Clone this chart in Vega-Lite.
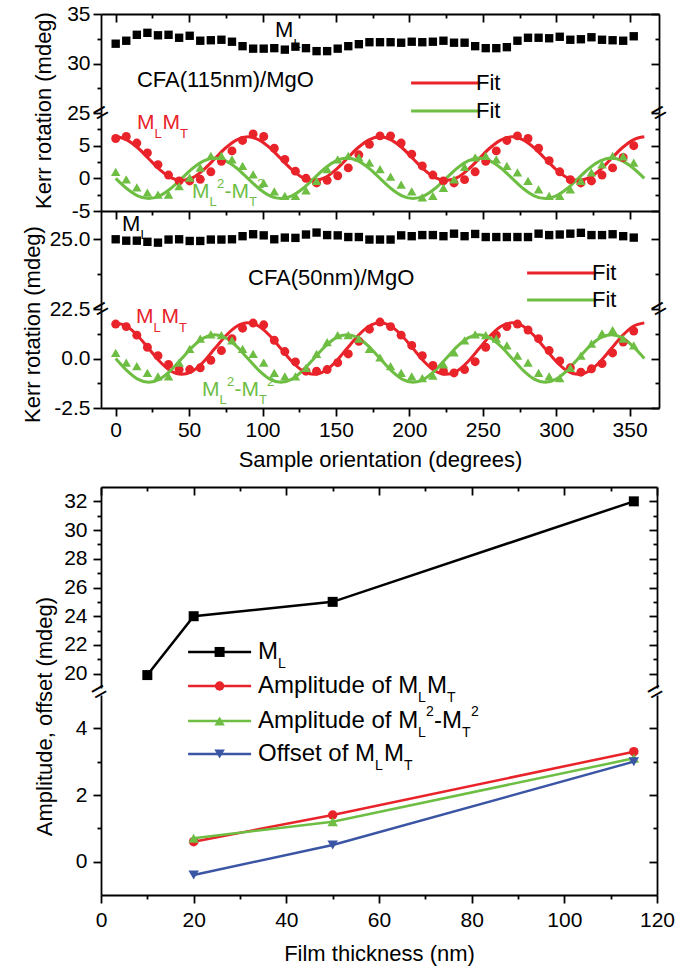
{
"$schema": "https://vega.github.io/schema/vega-lite/v6.json",
"background": "white",
"padding": {"left": 21, "top": 3, "right": 5, "bottom": 2},
"config": {
  "view": {"stroke": null},
  "font": "Liberation Sans",
  "axis": {"labelFont": "Liberation Sans", "labelFontSize": 21, "labelColor": "black", "titleFont": "Liberation Sans", "titleFontSize": 22, "titleFontWeight": "normal", "titleColor": "black", "domainColor": "black", "domainWidth": 1.8, "tickColor": "black", "tickWidth": 1.8, "grid": false, "labelOverlap": false, "labelFlush": false, "labelPadding": 3},
  "legend": {"labelFont": "Liberation Sans", "labelFontSize": 22, "labelColor": "black"},
  "text": {"font": "Liberation Sans", "color": "black"}
},
"datasets": {
  "kerr": [
    {"t":0,"ml115":32.0,"mm115":6.1,"df115":1.0,"ml50":24.99,"mm50":1.74,"df50":0.28},
    {"t":7.2,"ml115":32.3,"mm115":6.4,"df115":-0.15,"ml50":24.94,"mm50":1.61,"df50":-0.21},
    {"t":14.4,"ml115":32.9,"mm115":5.4,"df115":-1.4,"ml50":24.94,"mm50":1.18,"df50":-0.38},
    {"t":21.6,"ml115":33.1,"mm115":3.9,"df115":-2.2,"ml50":24.9,"mm50":0.57,"df50":-0.73},
    {"t":28.8,"ml115":32.85,"mm115":2.1,"df115":-2.5,"ml50":24.87,"mm50":0.14,"df50":-0.9},
    {"t":36,"ml115":32.9,"mm115":0.5,"df115":-2.5,"ml50":24.98,"mm50":-0.3,"df50":-0.9},
    {"t":43.2,"ml115":32.6,"mm115":-0.4,"df115":-1.2,"ml50":24.99,"mm50":-0.56,"df50":-0.21},
    {"t":50.4,"ml115":32.8,"mm115":-0.4,"df115":0.1,"ml50":24.93,"mm50":-0.56,"df50":0.49},
    {"t":57.6,"ml115":32.3,"mm115":-0.15,"df115":1.65,"ml50":24.93,"mm50":-0.47,"df50":1.0},
    {"t":64.8,"ml115":32.35,"mm115":1.0,"df115":3.45,"ml50":24.98,"mm50":-0.09,"df50":1.22},
    {"t":72,"ml115":32.4,"mm115":2.6,"df115":3.45,"ml50":24.98,"mm50":0.4,"df50":1.18},
    {"t":79.2,"ml115":32.2,"mm115":4.2,"df115":2.9,"ml50":24.99,"mm50":1.0,"df50":0.92},
    {"t":86.4,"ml115":31.75,"mm115":5.8,"df115":1.9,"ml50":25.1,"mm50":1.53,"df50":0.49},
    {"t":93.6,"ml115":31.5,"mm115":6.8,"df115":0.6,"ml50":25.17,"mm50":1.79,"df50":0.23},
    {"t":100.8,"ml115":31.5,"mm115":6.4,"df115":-0.7,"ml50":25.13,"mm50":1.7,"df50":-0.21},
    {"t":108,"ml115":31.55,"mm115":4.6,"df115":-2.0,"ml50":24.99,"mm50":0.92,"df50":-0.73},
    {"t":115.2,"ml115":31.4,"mm115":2.9,"df115":-2.7,"ml50":25.05,"mm50":0.35,"df50":-0.9},
    {"t":122.4,"ml115":31.7,"mm115":1.1,"df115":-2.7,"ml50":25.04,"mm50":-0.17,"df50":-0.9},
    {"t":129.6,"ml115":31.55,"mm115":0.0,"df115":-1.85,"ml50":25.16,"mm50":-0.64,"df50":-0.47},
    {"t":136.8,"ml115":31.25,"mm115":-0.7,"df115":-0.4,"ml50":25.23,"mm50":-0.64,"df50":0.23},
    {"t":144,"ml115":31.25,"mm115":-0.3,"df115":1.4,"ml50":25.14,"mm50":-0.56,"df50":0.83},
    {"t":151.2,"ml115":31.5,"mm115":0.4,"df115":2.9,"ml50":25.13,"mm50":-0.21,"df50":1.18},
    {"t":158.4,"ml115":31.75,"mm115":1.6,"df115":3.45,"ml50":25.07,"mm50":0.23,"df50":1.18},
    {"t":165.6,"ml115":31.95,"mm115":3.6,"df115":3.2,"ml50":25.07,"mm50":0.87,"df50":1.0},
    {"t":172.8,"ml115":32.15,"mm115":5.2,"df115":2.4,"ml50":24.98,"mm50":1.48,"df50":0.49},
    {"t":180,"ml115":32.15,"mm115":6.5,"df115":1.4,"ml50":24.98,"mm50":1.84,"df50":0.05},
    {"t":187.2,"ml115":32.15,"mm115":6.5,"df115":0.25,"ml50":24.98,"mm50":1.61,"df50":-0.38},
    {"t":194.4,"ml115":32.1,"mm115":5.4,"df115":-0.95,"ml50":25.13,"mm50":1.18,"df50":-0.73},
    {"t":201.6,"ml115":32.2,"mm115":3.7,"df115":-2.0,"ml50":25.1,"mm50":0.66,"df50":-0.9},
    {"t":208.8,"ml115":32.15,"mm115":1.9,"df115":-2.9,"ml50":25.14,"mm50":0.14,"df50":-0.99},
    {"t":216,"ml115":32.2,"mm115":0.5,"df115":-2.7,"ml50":25.14,"mm50":-0.35,"df50":-0.87},
    {"t":223.2,"ml115":32.3,"mm115":-0.4,"df115":-1.45,"ml50":25.1,"mm50":-0.64,"df50":-0.3},
    {"t":230.4,"ml115":32.1,"mm115":-0.7,"df115":-0.15,"ml50":25.19,"mm50":-0.73,"df50":0.31},
    {"t":237.6,"ml115":32.1,"mm115":-0.2,"df115":1.75,"ml50":25.1,"mm50":-0.56,"df50":0.92},
    {"t":244.8,"ml115":31.75,"mm115":1.0,"df115":3.2,"ml50":25.18,"mm50":-0.16,"df50":1.22},
    {"t":252,"ml115":31.55,"mm115":2.6,"df115":3.45,"ml50":25.07,"mm50":0.57,"df50":1.18},
    {"t":259.2,"ml115":31.55,"mm115":4.2,"df115":2.9,"ml50":25.07,"mm50":1.18,"df50":1.0},
    {"t":266.4,"ml115":31.65,"mm115":5.8,"df115":1.9,"ml50":25.07,"mm50":1.61,"df50":0.66},
    {"t":273.6,"ml115":32.3,"mm115":6.5,"df115":0.9,"ml50":25.07,"mm50":1.74,"df50":0.14},
    {"t":280.8,"ml115":32.6,"mm115":6.1,"df115":-0.4,"ml50":25.07,"mm50":1.44,"df50":-0.21},
    {"t":288,"ml115":32.6,"mm115":4.6,"df115":-1.7,"ml50":25.19,"mm50":1.0,"df50":-0.73},
    {"t":295.2,"ml115":32.55,"mm115":2.7,"df115":-2.7,"ml50":25.14,"mm50":0.4,"df50":-0.9},
    {"t":302.4,"ml115":32.7,"mm115":1.0,"df115":-2.7,"ml50":25.16,"mm50":-0.12,"df50":-0.99},
    {"t":309.6,"ml115":32.4,"mm115":-0.2,"df115":-1.7,"ml50":25.19,"mm50":-0.47,"df50":-0.47},
    {"t":316.8,"ml115":32.45,"mm115":-0.7,"df115":-0.4,"ml50":25.22,"mm50":-0.69,"df50":0.14},
    {"t":324,"ml115":32.65,"mm115":-0.4,"df115":0.9,"ml50":25.14,"mm50":-0.52,"df50":0.75},
    {"t":331.2,"ml115":32.4,"mm115":0.5,"df115":2.15,"ml50":25.14,"mm50":-0.26,"df50":1.27},
    {"t":338.4,"ml115":32.35,"mm115":1.6,"df115":3.45,"ml50":25.17,"mm50":0.28,"df50":1.44},
    {"t":345.6,"ml115":32.3,"mm115":3.2,"df115":3.35,"ml50":25.1,"mm50":0.83,"df50":1.0},
    {"t":352.8,"ml115":32.75,"mm115":5.0,"df115":2.4,"ml50":25.05,"mm50":1.39,"df50":0.66}
  ],
  "fit": [
    {"t":0,"r115":6.35,"g115":0,"r50":1.8,"g50":0},
    {"t":7.5,"r115":5.9,"g115":-1.55,"r50":1.63,"g50":-0.6},
    {"t":15,"r115":4.68,"g115":-2.68,"r50":1.15,"g50":-1.04},
    {"t":22.5,"r115":3.0,"g115":-3.1,"r50":0.5,"g50":-1.2},
    {"t":30,"r115":1.33,"g115":-2.68,"r50":-0.15,"g50":-1.04},
    {"t":37.5,"r115":0.1,"g115":-1.55,"r50":-0.63,"g50":-0.6},
    {"t":45,"r115":-0.35,"g115":0,"r50":-0.8,"g50":0},
    {"t":52.5,"r115":0.1,"g115":1.55,"r50":-0.63,"g50":0.6},
    {"t":60,"r115":1.33,"g115":2.68,"r50":-0.15,"g50":1.04},
    {"t":67.5,"r115":3.0,"g115":3.1,"r50":0.5,"g50":1.2},
    {"t":75,"r115":4.68,"g115":2.68,"r50":1.15,"g50":1.04},
    {"t":82.5,"r115":5.9,"g115":1.55,"r50":1.63,"g50":0.6},
    {"t":90,"r115":6.35,"g115":0,"r50":1.8,"g50":0},
    {"t":97.5,"r115":5.9,"g115":-1.55,"r50":1.63,"g50":-0.6},
    {"t":105,"r115":4.68,"g115":-2.68,"r50":1.15,"g50":-1.04},
    {"t":112.5,"r115":3.0,"g115":-3.1,"r50":0.5,"g50":-1.2},
    {"t":120,"r115":1.33,"g115":-2.68,"r50":-0.15,"g50":-1.04},
    {"t":127.5,"r115":0.1,"g115":-1.55,"r50":-0.63,"g50":-0.6},
    {"t":135,"r115":-0.35,"g115":0,"r50":-0.8,"g50":0},
    {"t":142.5,"r115":0.1,"g115":1.55,"r50":-0.63,"g50":0.6},
    {"t":150,"r115":1.33,"g115":2.68,"r50":-0.15,"g50":1.04},
    {"t":157.5,"r115":3.0,"g115":3.1,"r50":0.5,"g50":1.2},
    {"t":165,"r115":4.68,"g115":2.68,"r50":1.15,"g50":1.04},
    {"t":172.5,"r115":5.9,"g115":1.55,"r50":1.63,"g50":0.6},
    {"t":180,"r115":6.35,"g115":0,"r50":1.8,"g50":0},
    {"t":187.5,"r115":5.9,"g115":-1.55,"r50":1.63,"g50":-0.6},
    {"t":195,"r115":4.68,"g115":-2.68,"r50":1.15,"g50":-1.04},
    {"t":202.5,"r115":3.0,"g115":-3.1,"r50":0.5,"g50":-1.2},
    {"t":210,"r115":1.33,"g115":-2.68,"r50":-0.15,"g50":-1.04},
    {"t":217.5,"r115":0.1,"g115":-1.55,"r50":-0.63,"g50":-0.6},
    {"t":225,"r115":-0.35,"g115":0,"r50":-0.8,"g50":0},
    {"t":232.5,"r115":0.1,"g115":1.55,"r50":-0.63,"g50":0.6},
    {"t":240,"r115":1.33,"g115":2.68,"r50":-0.15,"g50":1.04},
    {"t":247.5,"r115":3.0,"g115":3.1,"r50":0.5,"g50":1.2},
    {"t":255,"r115":4.68,"g115":2.68,"r50":1.15,"g50":1.04},
    {"t":262.5,"r115":5.9,"g115":1.55,"r50":1.63,"g50":0.6},
    {"t":270,"r115":6.35,"g115":0,"r50":1.8,"g50":0},
    {"t":277.5,"r115":5.9,"g115":-1.55,"r50":1.63,"g50":-0.6},
    {"t":285,"r115":4.68,"g115":-2.68,"r50":1.15,"g50":-1.04},
    {"t":292.5,"r115":3.0,"g115":-3.1,"r50":0.5,"g50":-1.2},
    {"t":300,"r115":1.33,"g115":-2.68,"r50":-0.15,"g50":-1.04},
    {"t":307.5,"r115":0.1,"g115":-1.55,"r50":-0.63,"g50":-0.6},
    {"t":315,"r115":-0.35,"g115":0,"r50":-0.8,"g50":0},
    {"t":322.5,"r115":0.1,"g115":1.55,"r50":-0.63,"g50":0.6},
    {"t":330,"r115":1.33,"g115":2.68,"r50":-0.15,"g50":1.04},
    {"t":337.5,"r115":3.0,"g115":3.1,"r50":0.5,"g50":1.2},
    {"t":345,"r115":4.68,"g115":2.68,"r50":1.15,"g50":1.04},
    {"t":352.5,"r115":5.9,"g115":1.55,"r50":1.63,"g50":0.6},
    {"t":360,"r115":6.35,"g115":0,"r50":1.8,"g50":0}
  ],
  "thick": [
    {"nm":10,"ml":19.9},
    {"nm":20,"ml":24.0,"amp":0.6,"ampd":0.7,"off":-0.4},
    {"nm":50,"ml":25.0,"amp":1.4,"ampd":1.2,"off":0.5},
    {"nm":115,"ml":32.0,"amp":3.3,"ampd":3.1,"off":3.0}
  ]
},
"spacing": 16,
"vconcat": [
  {"spacing": 0, "bounds": "flush", "resolve": {"scale": {"color": "independent"}},
   "vconcat": [
    {"width": 558, "height": 99, "data": {"values": [{}]}, "resolve": {"axis": {"x": "independent", "y": "independent"}},
     "layer": [
      {"data": {"name": "kerr"}, "mark": {"type": "point", "shape": "square", "filled": true, "color": "black", "opacity": 1, "size": 70},
       "encoding": {
        "x": {"field": "t", "type": "quantitative", "scale": {"domain": [-10, 370], "nice": false, "zero": false},
              "axis": {"orient": "top", "values": [0,25,50,75,100,125,150,175,200,225,250,275,300,325,350], "labels": false, "title": null, "tickSize": {"condition": {"test": "datum.value % 50 === 0", "value": -8}, "value": -4}}},
        "y": {"field": "ml115", "type": "quantitative", "scale": {"domain": [25, 35], "nice": false, "zero": false},
              "axis": {"orient": "left", "values": [25,27.5,30,32.5,35], "labelExpr": "datum.value % 5 === 0 ? '' + datum.value : ''", "tickSize": {"condition": {"test": "datum.value % 5 === 0", "value": 8}, "value": 4}, "title": "Kerr rotation (mdeg)", "titleX": -58, "titleY": 96, "titleAngle": 270, "titleBaseline": "middle", "titleAlign": "center"}}}},
      {"mark": {"type": "text", "text": "M", "align": "left", "baseline": "middle", "fontSize": 22},
       "encoding": {"x": {"datum": 108.5, "type": "quantitative", "axis": null},
        "y": {"datum": 33.38, "type": "quantitative", "axis": {"orient": "right", "values": [25,27.5,30,32.5,35], "labels": false, "title": null, "tickSize": {"condition": {"test": "datum.value % 5 === 0", "value": -8}, "value": -4}}}}},
      {"mark": {"type": "text", "text": "L", "align": "left", "baseline": "middle", "fontSize": 13, "dx": 18.5, "dy": 14},
       "encoding": {"x": {"datum": 108.5, "type": "quantitative",
              "axis": {"orient": "top", "offset": -197, "values": [0,25,50,75,100,125,150,175,200,225,250,275,300,325,350], "labels": false, "title": null, "tickSize": {"condition": {"test": "datum.value % 50 === 0", "value": -8}, "value": -4}}},
        "y": {"datum": 33.38, "type": "quantitative", "axis": null}}},
      {"mark": {"type": "text", "text": "CFA(115nm)/MgO", "align": "left", "baseline": "middle", "fontSize": 22},
       "encoding": {"x": {"datum": 14.5, "type": "quantitative",
              "axis": {"orient": "top", "offset": -394, "values": [0,25,50,75,100,125,150,175,200,225,250,275,300,325,350], "labelExpr": "datum.value % 50 === 0 ? '' + datum.value : ''", "labelBaseline": "top", "labelPadding": -3, "tickSize": {"condition": {"test": "datum.value % 50 === 0", "value": -8}, "value": -4}, "title": "Sample orientation (degrees)", "titleY": 51, "titleBaseline": "middle"}},
        "y": {"datum": 28.33, "type": "quantitative", "axis": null}}}
     ]},
    {"width": 558, "height": 98, "data": {"values": [{}]}, "resolve": {"axis": {"y": "independent"}},
     "layer": [
      {"data": {"name": "fit"}, "transform": [{"fold": ["r115", "g115"], "as": ["curve", "v"]}],
       "mark": {"type": "line", "strokeWidth": 3, "interpolate": "monotone"},
       "encoding": {
        "x": {"field": "t", "type": "quantitative", "scale": {"domain": [-10, 370], "nice": false, "zero": false}, "axis": null},
        "y": {"field": "v", "type": "quantitative", "scale": {"domain": [-5, 10], "nice": false, "zero": false},
              "axis": {"orient": "left", "values": [-5,-2.5,0,2.5,5,7.5], "labelExpr": "datum.value % 5 === 0 ? '' + datum.value : ''", "tickSize": {"condition": {"test": "datum.value % 5 === 0", "value": 8}, "value": 4}, "title": null}},
        "color": {"field": "curve", "type": "nominal", "scale": {"domain": ["r115", "g115"], "range": ["#E8232A", "#6EBE44"]},
                  "legend": {"orient": "none", "legendX": 333.5, "legendY": -41, "title": null, "labelExpr": "'Fit'", "symbolType": "M-8.6,0H8.6", "symbolSize": 64, "symbolStrokeWidth": 3, "labelFontSize": 22, "labelOffset": 19.5, "rowPadding": 6, "padding": 0}}}},
      {"data": {"name": "kerr"}, "mark": {"type": "point", "shape": "circle", "filled": true, "color": "#E8232A", "opacity": 1, "size": 80},
       "encoding": {"x": {"field": "t", "type": "quantitative", "axis": null},
        "y": {"field": "mm115", "type": "quantitative", "axis": {"orient": "right", "values": [-5,-2.5,0,2.5,5,7.5], "labels": false, "title": null, "tickSize": {"condition": {"test": "datum.value % 5 === 0", "value": -8}, "value": -4}}}}},
      {"data": {"name": "kerr"}, "mark": {"type": "point", "shape": "triangle-up", "filled": true, "color": "#6EBE44", "opacity": 1, "size": 90},
       "encoding": {"x": {"field": "t", "type": "quantitative", "axis": null}, "y": {"field": "df115", "type": "quantitative", "axis": null}}},
      {"mark": {"type": "text", "text": "M", "align": "left", "baseline": "middle", "fontSize": 21, "color": "#E8232A"},
       "encoding": {"x": {"datum": 14.5, "type": "quantitative", "axis": null}, "y": {"datum": 8.47, "type": "quantitative", "axis": null}}},
      {"mark": {"type": "text", "text": "L", "align": "left", "baseline": "middle", "fontSize": 13, "color": "#E8232A", "dx": 17.5, "dy": 11},
       "encoding": {"x": {"datum": 14.5, "type": "quantitative", "axis": null}, "y": {"datum": 8.47, "type": "quantitative", "axis": null}}},
      {"mark": {"type": "text", "text": "M", "align": "left", "baseline": "middle", "fontSize": 21, "color": "#E8232A", "dx": 25.5},
       "encoding": {"x": {"datum": 14.5, "type": "quantitative", "axis": null}, "y": {"datum": 8.47, "type": "quantitative", "axis": null}}},
      {"mark": {"type": "text", "text": "T", "align": "left", "baseline": "middle", "fontSize": 13, "color": "#E8232A", "dx": 43, "dy": 11},
       "encoding": {"x": {"datum": 14.5, "type": "quantitative", "axis": null}, "y": {"datum": 8.47, "type": "quantitative", "axis": null}}},
      {"mark": {"type": "text", "text": "M", "align": "left", "baseline": "middle", "fontSize": 21, "color": "#6EBE44"},
       "encoding": {"x": {"datum": 52, "type": "quantitative", "axis": null}, "y": {"datum": -2.09, "type": "quantitative", "axis": null}}},
      {"mark": {"type": "text", "text": "L", "align": "left", "baseline": "middle", "fontSize": 13, "color": "#6EBE44", "dx": 17.5, "dy": 10},
       "encoding": {"x": {"datum": 52, "type": "quantitative", "axis": null}, "y": {"datum": -2.09, "type": "quantitative", "axis": null}}},
      {"mark": {"type": "text", "text": "2", "align": "left", "baseline": "middle", "fontSize": 13, "color": "#6EBE44", "dx": 25, "dy": -8},
       "encoding": {"x": {"datum": 52, "type": "quantitative", "axis": null}, "y": {"datum": -2.09, "type": "quantitative", "axis": null}}},
      {"mark": {"type": "text", "text": "-M", "align": "left", "baseline": "middle", "fontSize": 21, "color": "#6EBE44", "dx": 32.5},
       "encoding": {"x": {"datum": 52, "type": "quantitative", "axis": null}, "y": {"datum": -2.09, "type": "quantitative", "axis": null}}},
      {"mark": {"type": "text", "text": "T", "align": "left", "baseline": "middle", "fontSize": 13, "color": "#6EBE44", "dx": 57, "dy": 10},
       "encoding": {"x": {"datum": 52, "type": "quantitative", "axis": null}, "y": {"datum": -2.09, "type": "quantitative", "axis": null}}},
      {"mark": {"type": "text", "text": "2", "align": "left", "baseline": "middle", "fontSize": 13, "color": "#6EBE44", "dx": 65, "dy": -8},
       "encoding": {"x": {"datum": 52, "type": "quantitative", "axis": null}, "y": {"datum": -2.09, "type": "quantitative", "axis": null}}},
      {"mark": {"type": "text", "text": "=", "align": "center", "baseline": "middle", "fontSize": 26, "angle": 330},
       "encoding": {"x": {"datum": -10, "type": "quantitative", "axis": null}, "y": {"datum": 10, "type": "quantitative", "axis": null}}},
      {"mark": {"type": "text", "text": "=", "align": "center", "baseline": "middle", "fontSize": 26, "angle": 330},
       "encoding": {"x": {"datum": 370, "type": "quantitative", "axis": null}, "y": {"datum": 10, "type": "quantitative", "axis": null}}}
     ]},
    {"width": 558, "height": 98, "data": {"values": [{}]}, "resolve": {"axis": {"y": "independent"}},
     "layer": [
      {"data": {"name": "kerr"}, "mark": {"type": "point", "shape": "square", "filled": true, "color": "black", "opacity": 1, "size": 70},
       "encoding": {
        "x": {"field": "t", "type": "quantitative", "scale": {"domain": [-10, 370], "nice": false, "zero": false}, "axis": null},
        "y": {"field": "ml50", "type": "quantitative", "scale": {"domain": [22.5, 26], "nice": false, "zero": false},
              "axis": {"orient": "left", "values": [22.5,23.75,25], "labelExpr": "datum.value % 2.5 === 0 ? format(datum.value, '.1f') : ''", "tickSize": {"condition": {"test": "datum.value % 2.5 === 0", "value": 8}, "value": 4}, "title": "Kerr rotation (mdeg)", "titleX": -69, "titleY": 113, "titleAngle": 270, "titleBaseline": "middle", "titleAlign": "center"}}}},
      {"mark": {"type": "text", "text": "M", "align": "left", "baseline": "middle", "fontSize": 22},
       "encoding": {"x": {"datum": 4.3, "type": "quantitative", "axis": null},
        "y": {"datum": 25.54, "type": "quantitative", "axis": {"orient": "right", "values": [22.5,23.75,25], "labels": false, "title": null, "tickSize": {"condition": {"test": "datum.value % 2.5 === 0", "value": -8}, "value": -4}}}}},
      {"mark": {"type": "text", "text": "L", "align": "left", "baseline": "middle", "fontSize": 13, "dx": 18.5, "dy": 11},
       "encoding": {"x": {"datum": 4.3, "type": "quantitative", "axis": null}, "y": {"datum": 25.54, "type": "quantitative", "axis": null}}},
      {"mark": {"type": "text", "text": "CFA(50nm)/MgO", "align": "left", "baseline": "middle", "fontSize": 22},
       "encoding": {"x": {"datum": 90.1, "type": "quantitative", "axis": null}, "y": {"datum": 23.61, "type": "quantitative", "axis": null}}}
     ]},
    {"width": 558, "height": 99, "data": {"values": [{}]}, "resolve": {"axis": {"y": "independent"}},
     "layer": [
      {"data": {"name": "fit"}, "transform": [{"fold": ["r50", "g50"], "as": ["curve", "v"]}],
       "mark": {"type": "line", "strokeWidth": 3, "interpolate": "monotone"},
       "encoding": {
        "x": {"field": "t", "type": "quantitative", "scale": {"domain": [-10, 370], "nice": false, "zero": false}, "axis": null},
        "y": {"field": "v", "type": "quantitative", "scale": {"domain": [-2.5, 2.5], "nice": false, "zero": false},
              "axis": {"orient": "left", "values": [-2.5,-1.25,0,1.25], "labelExpr": "datum.value % 2.5 === 0 ? replace(format(datum.value, '.1f'), '\u2212', '-') : ''", "tickSize": {"condition": {"test": "datum.value % 2.5 === 0", "value": 8}, "value": 4}, "title": null}},
        "color": {"field": "curve", "type": "nominal", "scale": {"domain": ["r50", "g50"], "range": ["#E8232A", "#6EBE44"]},
                  "legend": {"orient": "none", "legendX": 449.5, "legendY": -47, "title": null, "labelExpr": "'Fit'", "symbolType": "M-8.6,0H8.6", "symbolSize": 64, "symbolStrokeWidth": 3, "labelFontSize": 22, "labelOffset": 19.5, "rowPadding": 5, "padding": 0}}}},
      {"data": {"name": "kerr"}, "mark": {"type": "point", "shape": "circle", "filled": true, "color": "#E8232A", "opacity": 1, "size": 80},
       "encoding": {"x": {"field": "t", "type": "quantitative", "axis": null},
        "y": {"field": "mm50", "type": "quantitative", "axis": {"orient": "right", "values": [-2.5,-1.25,0,1.25], "labels": false, "title": null, "tickSize": {"condition": {"test": "datum.value % 2.5 === 0", "value": -8}, "value": -4}}}}},
      {"data": {"name": "kerr"}, "mark": {"type": "point", "shape": "triangle-up", "filled": true, "color": "#6EBE44", "opacity": 1, "size": 90},
       "encoding": {"x": {"field": "t", "type": "quantitative", "axis": null}, "y": {"field": "df50", "type": "quantitative", "axis": null}}},
      {"mark": {"type": "text", "text": "M", "align": "left", "baseline": "middle", "fontSize": 21, "color": "#E8232A"},
       "encoding": {"x": {"datum": 13.8, "type": "quantitative", "axis": null}, "y": {"datum": 2.1, "type": "quantitative", "axis": null}}},
      {"mark": {"type": "text", "text": "L", "align": "left", "baseline": "middle", "fontSize": 13, "color": "#E8232A", "dx": 17.5, "dy": 11},
       "encoding": {"x": {"datum": 13.8, "type": "quantitative", "axis": null}, "y": {"datum": 2.1, "type": "quantitative", "axis": null}}},
      {"mark": {"type": "text", "text": "M", "align": "left", "baseline": "middle", "fontSize": 21, "color": "#E8232A", "dx": 25.5},
       "encoding": {"x": {"datum": 13.8, "type": "quantitative", "axis": null}, "y": {"datum": 2.1, "type": "quantitative", "axis": null}}},
      {"mark": {"type": "text", "text": "T", "align": "left", "baseline": "middle", "fontSize": 13, "color": "#E8232A", "dx": 43, "dy": 11},
       "encoding": {"x": {"datum": 13.8, "type": "quantitative", "axis": null}, "y": {"datum": 2.1, "type": "quantitative", "axis": null}}},
      {"mark": {"type": "text", "text": "M", "align": "left", "baseline": "middle", "fontSize": 21, "color": "#6EBE44"},
       "encoding": {"x": {"datum": 58.8, "type": "quantitative", "axis": null}, "y": {"datum": -1.59, "type": "quantitative", "axis": null}}},
      {"mark": {"type": "text", "text": "L", "align": "left", "baseline": "middle", "fontSize": 13, "color": "#6EBE44", "dx": 17.5, "dy": 10},
       "encoding": {"x": {"datum": 58.8, "type": "quantitative", "axis": null}, "y": {"datum": -1.59, "type": "quantitative", "axis": null}}},
      {"mark": {"type": "text", "text": "2", "align": "left", "baseline": "middle", "fontSize": 13, "color": "#6EBE44", "dx": 25, "dy": -8},
       "encoding": {"x": {"datum": 58.8, "type": "quantitative", "axis": null}, "y": {"datum": -1.59, "type": "quantitative", "axis": null}}},
      {"mark": {"type": "text", "text": "-M", "align": "left", "baseline": "middle", "fontSize": 21, "color": "#6EBE44", "dx": 32.5},
       "encoding": {"x": {"datum": 58.8, "type": "quantitative", "axis": null}, "y": {"datum": -1.59, "type": "quantitative", "axis": null}}},
      {"mark": {"type": "text", "text": "T", "align": "left", "baseline": "middle", "fontSize": 13, "color": "#6EBE44", "dx": 57, "dy": 10},
       "encoding": {"x": {"datum": 58.8, "type": "quantitative", "axis": null}, "y": {"datum": -1.59, "type": "quantitative", "axis": null}}},
      {"mark": {"type": "text", "text": "2", "align": "left", "baseline": "middle", "fontSize": 13, "color": "#6EBE44", "dx": 65, "dy": -8},
       "encoding": {"x": {"datum": 58.8, "type": "quantitative", "axis": null}, "y": {"datum": -1.59, "type": "quantitative", "axis": null}}},
      {"mark": {"type": "text", "text": "=", "align": "center", "baseline": "middle", "fontSize": 26, "angle": 330},
       "encoding": {"x": {"datum": -10, "type": "quantitative", "axis": null}, "y": {"datum": 2.5, "type": "quantitative", "axis": null}}},
      {"mark": {"type": "text", "text": "=", "align": "center", "baseline": "middle", "fontSize": 26, "angle": 330},
       "encoding": {"x": {"datum": 370, "type": "quantitative", "axis": null}, "y": {"datum": 2.5, "type": "quantitative", "axis": null}}}
     ]}
   ]},
  {"spacing": 7, "bounds": "flush",
   "vconcat": [
    {"width": 556, "height": 201, "data": {"values": [{}]}, "resolve": {"axis": {"x": "independent", "y": "independent"}},
     "layer": [
      {"data": {"name": "thick"}, "mark": {"type": "line", "color": "black", "strokeWidth": 2.5},
       "encoding": {
        "x": {"field": "nm", "type": "quantitative", "scale": {"domain": [0, 120], "nice": false, "zero": false},
              "axis": {"orient": "top", "values": [0,10,20,30,40,50,60,70,80,90,100,110,120], "labels": false, "title": null, "tickSize": {"condition": {"test": "datum.value % 20 === 0", "value": -8}, "value": -4}}},
        "y": {"field": "ml", "type": "quantitative", "scale": {"domain": [19, 33], "nice": false, "zero": false},
              "axis": {"orient": "left", "values": [20,21,22,23,24,25,26,27,28,29,30,31,32], "labelExpr": "datum.value % 2 === 0 ? '' + datum.value : ''", "labelPadding": 6, "tickSize": {"condition": {"test": "datum.value % 2 === 0", "value": 8}, "value": 4}, "title": null}}}},
      {"data": {"name": "thick"}, "mark": {"type": "point", "shape": "square", "filled": true, "color": "black", "opacity": 1, "size": 100},
       "encoding": {"x": {"field": "nm", "type": "quantitative", "axis": null},
        "y": {"field": "ml", "type": "quantitative", "axis": {"orient": "right", "values": [20,21,22,23,24,25,26,27,28,29,30,31,32], "labels": false, "title": null, "tickSize": {"condition": {"test": "datum.value % 2 === 0", "value": -8}, "value": -4}}}}},
      {"mark": {"type": "rule", "color": "black", "strokeWidth": 2.5},
       "encoding": {"x": {"datum": 18.8, "type": "quantitative", "axis": null}, "x2": {"datum": 32.4}, "y": {"datum": 21.51, "type": "quantitative", "axis": null}}},
      {"mark": {"type": "point", "shape": "square", "filled": true, "color": "black", "opacity": 1, "size": 100},
       "encoding": {"x": {"datum": 25.6, "type": "quantitative", "axis": null}, "y": {"datum": 21.51, "type": "quantitative", "axis": null}}},
      {"mark": {"type": "text", "text": "M", "align": "left", "baseline": "middle", "fontSize": 24},
       "encoding": {"x": {"datum": 33.9, "type": "quantitative",
              "axis": {"orient": "top", "offset": -408, "values": [0,10,20,30,40,50,60,70,80,90,100,110,120], "labelExpr": "datum.value % 20 === 0 ? '' + datum.value : ''", "labelBaseline": "top", "labelPadding": -6, "tickSize": {"condition": {"test": "datum.value % 20 === 0", "value": -8}, "value": -4}, "title": "Film thickness (nm)", "titleY": 58, "titleBaseline": "middle"}},
        "y": {"datum": 21.51, "type": "quantitative", "axis": null}}},
      {"mark": {"type": "text", "text": "L", "align": "left", "baseline": "middle", "fontSize": 14, "dx": 20, "dy": 12},
       "encoding": {"x": {"datum": 33.9, "type": "quantitative", "axis": null}, "y": {"datum": 21.51, "type": "quantitative", "axis": null}}},
      {"mark": {"type": "rule", "color": "#E8232A", "strokeWidth": 2.5},
       "encoding": {"x": {"datum": 18.8, "type": "quantitative", "axis": null}, "x2": {"datum": 32.4}, "y": {"datum": 19.14, "type": "quantitative", "axis": null}}},
      {"mark": {"type": "point", "shape": "circle", "filled": true, "color": "#E8232A", "opacity": 1, "size": 90},
       "encoding": {"x": {"datum": 25.6, "type": "quantitative", "axis": null}, "y": {"datum": 19.14, "type": "quantitative", "axis": null}}},
      {"mark": {"type": "text", "text": "Amplitude of M", "align": "left", "baseline": "middle", "fontSize": 24},
       "encoding": {"x": {"datum": 33.9, "type": "quantitative", "axis": null}, "y": {"datum": 19.14, "type": "quantitative", "axis": null}}},
      {"mark": {"type": "text", "text": "L", "align": "left", "baseline": "middle", "fontSize": 14, "dx": 160, "dy": 12},
       "encoding": {"x": {"datum": 33.9, "type": "quantitative", "axis": null}, "y": {"datum": 19.14, "type": "quantitative", "axis": null}}},
      {"mark": {"type": "text", "text": "M", "align": "left", "baseline": "middle", "fontSize": 24, "dx": 169},
       "encoding": {"x": {"datum": 33.9, "type": "quantitative", "axis": null}, "y": {"datum": 19.14, "type": "quantitative", "axis": null}}},
      {"mark": {"type": "text", "text": "T", "align": "left", "baseline": "middle", "fontSize": 14, "dx": 189, "dy": 12},
       "encoding": {"x": {"datum": 33.9, "type": "quantitative", "axis": null}, "y": {"datum": 19.14, "type": "quantitative", "axis": null}}}
     ]},
    {"width": 556, "height": 200, "data": {"values": [{}]}, "resolve": {"axis": {"y": "independent"}},
     "layer": [
      {"data": {"name": "thick"}, "mark": {"type": "line", "color": "#E8232A", "strokeWidth": 2.5},
       "encoding": {
        "x": {"field": "nm", "type": "quantitative", "scale": {"domain": [0, 120], "nice": false, "zero": false}, "axis": null},
        "y": {"field": "amp", "type": "quantitative", "scale": {"domain": [-1, 5], "nice": false, "zero": false},
              "axis": {"orient": "left", "values": [0,1,2,3,4], "labelExpr": "datum.value % 2 === 0 ? '' + datum.value : ''", "labelPadding": 6, "tickSize": {"condition": {"test": "datum.value % 2 === 0", "value": 8}, "value": 4}, "title": "Amplitude, offset (mdeg)", "titleX": -57, "titleY": 21, "titleAngle": 270, "titleBaseline": "middle", "titleAlign": "center"}}}},
      {"data": {"name": "thick"}, "mark": {"type": "point", "shape": "circle", "filled": true, "color": "#E8232A", "opacity": 1, "size": 90},
       "encoding": {"x": {"field": "nm", "type": "quantitative", "axis": null},
        "y": {"field": "amp", "type": "quantitative", "axis": {"orient": "right", "values": [0,1,2,3,4], "labels": false, "title": null, "tickSize": {"condition": {"test": "datum.value % 2 === 0", "value": -8}, "value": -4}}}}},
      {"data": {"name": "thick"}, "mark": {"type": "line", "color": "#6EBE44", "strokeWidth": 2.5},
       "encoding": {"x": {"field": "nm", "type": "quantitative", "axis": null}, "y": {"field": "ampd", "type": "quantitative", "axis": null}}},
      {"data": {"name": "thick"}, "mark": {"type": "point", "shape": "triangle-up", "filled": true, "color": "#6EBE44", "opacity": 1, "size": 110},
       "encoding": {"x": {"field": "nm", "type": "quantitative", "axis": null}, "y": {"field": "ampd", "type": "quantitative", "axis": null}}},
      {"data": {"name": "thick"}, "mark": {"type": "line", "color": "#3B55A5", "strokeWidth": 2.5},
       "encoding": {"x": {"field": "nm", "type": "quantitative", "axis": null}, "y": {"field": "off", "type": "quantitative", "axis": null}}},
      {"data": {"name": "thick"}, "mark": {"type": "point", "shape": "triangle-down", "filled": true, "color": "#3B55A5", "opacity": 1, "size": 110},
       "encoding": {"x": {"field": "nm", "type": "quantitative", "axis": null}, "y": {"field": "off", "type": "quantitative", "axis": null}}},
      {"mark": {"type": "rule", "color": "#6EBE44", "strokeWidth": 2.5},
       "encoding": {"x": {"datum": 18.8, "type": "quantitative", "axis": null}, "x2": {"datum": 32.4}, "y": {"datum": 4.22, "type": "quantitative", "axis": null}}},
      {"mark": {"type": "point", "shape": "triangle-up", "filled": true, "color": "#6EBE44", "opacity": 1, "size": 110},
       "encoding": {"x": {"datum": 25.6, "type": "quantitative", "axis": null}, "y": {"datum": 4.22, "type": "quantitative", "axis": null}}},
      {"mark": {"type": "text", "text": "Amplitude of M", "align": "left", "baseline": "middle", "fontSize": 24},
       "encoding": {"x": {"datum": 33.9, "type": "quantitative", "axis": null}, "y": {"datum": 4.22, "type": "quantitative", "axis": null}}},
      {"mark": {"type": "text", "text": "L", "align": "left", "baseline": "middle", "fontSize": 14, "dx": 160, "dy": 12},
       "encoding": {"x": {"datum": 33.9, "type": "quantitative", "axis": null}, "y": {"datum": 4.22, "type": "quantitative", "axis": null}}},
      {"mark": {"type": "text", "text": "2", "align": "left", "baseline": "middle", "fontSize": 14, "dx": 168, "dy": -9},
       "encoding": {"x": {"datum": 33.9, "type": "quantitative", "axis": null}, "y": {"datum": 4.22, "type": "quantitative", "axis": null}}},
      {"mark": {"type": "text", "text": "-M", "align": "left", "baseline": "middle", "fontSize": 24, "dx": 176},
       "encoding": {"x": {"datum": 33.9, "type": "quantitative", "axis": null}, "y": {"datum": 4.22, "type": "quantitative", "axis": null}}},
      {"mark": {"type": "text", "text": "T", "align": "left", "baseline": "middle", "fontSize": 14, "dx": 204, "dy": 12},
       "encoding": {"x": {"datum": 33.9, "type": "quantitative", "axis": null}, "y": {"datum": 4.22, "type": "quantitative", "axis": null}}},
      {"mark": {"type": "text", "text": "2", "align": "left", "baseline": "middle", "fontSize": 14, "dx": 213, "dy": -9},
       "encoding": {"x": {"datum": 33.9, "type": "quantitative", "axis": null}, "y": {"datum": 4.22, "type": "quantitative", "axis": null}}},
      {"mark": {"type": "rule", "color": "#3B55A5", "strokeWidth": 2.5},
       "encoding": {"x": {"datum": 18.8, "type": "quantitative", "axis": null}, "x2": {"datum": 32.4}, "y": {"datum": 3.23, "type": "quantitative", "axis": null}}},
      {"mark": {"type": "point", "shape": "triangle-down", "filled": true, "color": "#3B55A5", "opacity": 1, "size": 110},
       "encoding": {"x": {"datum": 25.6, "type": "quantitative", "axis": null}, "y": {"datum": 3.23, "type": "quantitative", "axis": null}}},
      {"mark": {"type": "text", "text": "Offset of M", "align": "left", "baseline": "middle", "fontSize": 24},
       "encoding": {"x": {"datum": 33.9, "type": "quantitative", "axis": null}, "y": {"datum": 3.23, "type": "quantitative", "axis": null}}},
      {"mark": {"type": "text", "text": "L", "align": "left", "baseline": "middle", "fontSize": 14, "dx": 117, "dy": 12},
       "encoding": {"x": {"datum": 33.9, "type": "quantitative", "axis": null}, "y": {"datum": 3.23, "type": "quantitative", "axis": null}}},
      {"mark": {"type": "text", "text": "M", "align": "left", "baseline": "middle", "fontSize": 24, "dx": 126},
       "encoding": {"x": {"datum": 33.9, "type": "quantitative", "axis": null}, "y": {"datum": 3.23, "type": "quantitative", "axis": null}}},
      {"mark": {"type": "text", "text": "T", "align": "left", "baseline": "middle", "fontSize": 14, "dx": 146, "dy": 12},
       "encoding": {"x": {"datum": 33.9, "type": "quantitative", "axis": null}, "y": {"datum": 3.23, "type": "quantitative", "axis": null}}},
      {"mark": {"type": "text", "text": "=", "align": "center", "baseline": "middle", "fontSize": 26, "angle": 330, "dy": -3.5},
       "encoding": {"x": {"datum": 0, "type": "quantitative", "axis": null}, "y": {"datum": 5, "type": "quantitative", "axis": null}}},
      {"mark": {"type": "text", "text": "=", "align": "center", "baseline": "middle", "fontSize": 26, "angle": 330, "dy": -3.5},
       "encoding": {"x": {"datum": 120, "type": "quantitative", "axis": null}, "y": {"datum": 5, "type": "quantitative", "axis": null}}}
     ]}
   ]}
]
}
